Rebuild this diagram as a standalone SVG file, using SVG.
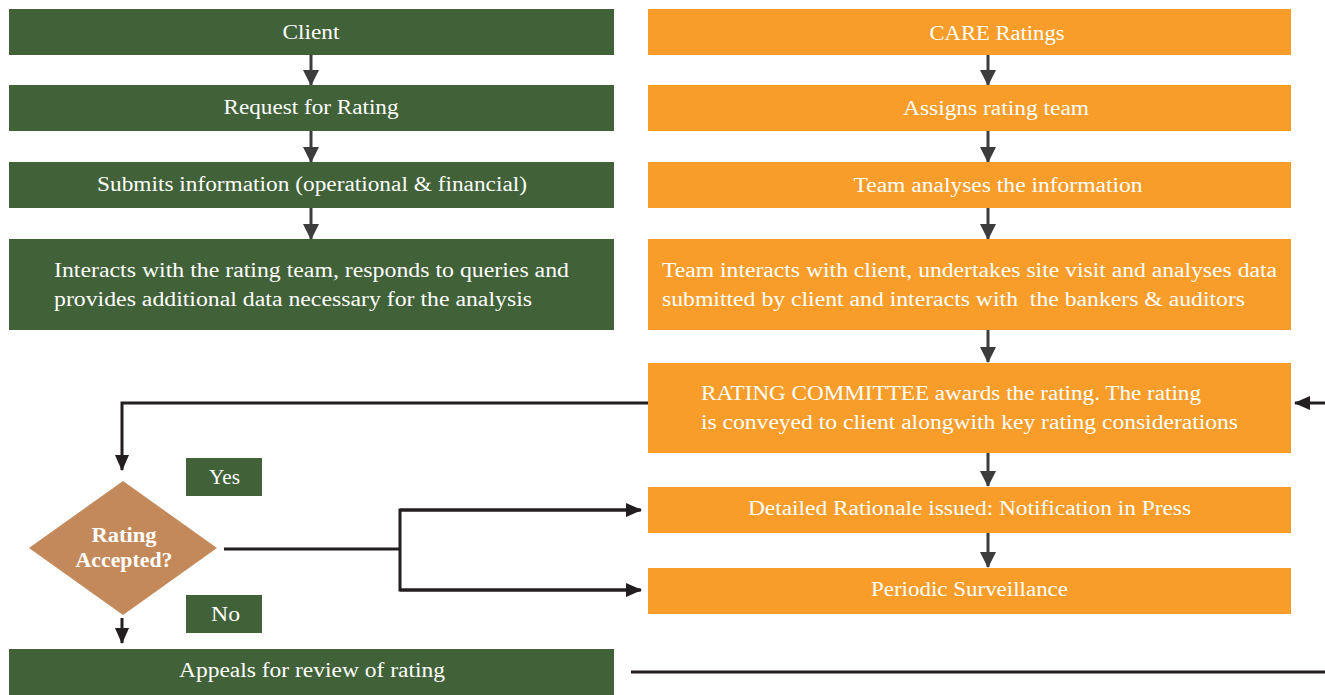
<svg xmlns="http://www.w3.org/2000/svg" width="1325" height="695" viewBox="0 0 1325 695">
<defs>
<style>
.g{fill:#416139}
.o{fill:#F89D2A}
.t{font-family:"Liberation Serif","Times New Roman",serif;font-size:20px;fill:#ffffff}
.c{text-anchor:middle}
.b{font-weight:bold}
.s{stroke:#3c3c3c;stroke-width:3;fill:none}
.k{stroke:#231f20;stroke-width:3;fill:none}
</style>
<marker id="ah" markerUnits="userSpaceOnUse" markerWidth="16" markerHeight="16" viewBox="0 0 16 16" refX="15" refY="8" orient="auto">
<path d="M0,0 L16,8 L0,16 Z" fill="#3c3c3c"/>
</marker>
<marker id="ak" markerUnits="userSpaceOnUse" markerWidth="16" markerHeight="16" viewBox="0 0 16 16" refX="15" refY="8" orient="auto">
<path d="M0,1 L16,8 L0,15 Z" fill="#231f20"/>
</marker>
</defs>
<rect width="1325" height="695" fill="#ffffff"/>

<g id="connectors">
<line class="s" x1="311" y1="55" x2="311" y2="85" marker-end="url(#ah)"/>
<line class="s" x1="311" y1="131" x2="311" y2="162" marker-end="url(#ah)"/>
<line class="s" x1="311" y1="208" x2="311" y2="239" marker-end="url(#ah)"/>
<line class="s" x1="988" y1="55" x2="988" y2="85" marker-end="url(#ah)"/>
<line class="s" x1="988" y1="131" x2="988" y2="162" marker-end="url(#ah)"/>
<line class="s" x1="988" y1="208" x2="988" y2="239" marker-end="url(#ah)"/>
<line class="s" x1="988" y1="330" x2="988" y2="362" marker-end="url(#ah)"/>
<line class="s" x1="988" y1="453" x2="988" y2="486" marker-end="url(#ah)"/>
<line class="s" x1="988" y1="533" x2="988" y2="567" marker-end="url(#ah)"/>
<polyline class="k" points="648,403 122,403 122,470" marker-end="url(#ak)"/>
<line class="k" x1="224" y1="549" x2="400" y2="549"/>
<polyline class="k" points="640,510 400,510 400,590 640,590" />
<line class="k" x1="400" y1="510" x2="641" y2="510" marker-end="url(#ak)"/>
<line class="k" x1="400" y1="590" x2="641" y2="590" marker-end="url(#ak)"/>
<line class="k" x1="122" y1="618" x2="122" y2="643" marker-end="url(#ak)"/>
<line class="k" x1="1325" y1="403" x2="1295" y2="403" marker-end="url(#ak)"/>
<line class="k" x1="631" y1="672" x2="1325" y2="672"/>
</g>

<g id="client"><rect class="g" x="9" y="9" width="605" height="46"/><text class="t c" x="311" y="39" textLength="57" lengthAdjust="spacingAndGlyphs">Client</text></g>
<g id="request"><rect class="g" x="9" y="85" width="605" height="46"/><text class="t c" x="311" y="114" textLength="175" lengthAdjust="spacingAndGlyphs">Request for Rating</text></g>
<g id="submits"><rect class="g" x="9" y="162" width="605" height="46"/><text class="t c" x="312" y="191" textLength="430" lengthAdjust="spacingAndGlyphs">Submits information (operational &amp; financial)</text></g>
<g id="interacts"><rect class="g" x="9" y="239" width="605" height="91"/>
<text class="t" x="54" y="277" textLength="515" lengthAdjust="spacingAndGlyphs">Interacts with the rating team, responds to queries and</text>
<text class="t" x="54" y="306" textLength="478" lengthAdjust="spacingAndGlyphs">provides additional data necessary for the analysis</text></g>
<g id="appeals"><rect class="g" x="9" y="649" width="605" height="46"/><text class="t c" x="312" y="677" textLength="266" lengthAdjust="spacingAndGlyphs">Appeals for review of rating</text></g>

<g id="care"><rect class="o" x="648" y="9" width="643" height="46"/><text class="t c" x="997" y="40" textLength="135" lengthAdjust="spacingAndGlyphs">CARE Ratings</text></g>
<g id="assigns"><rect class="o" x="648" y="85" width="643" height="46"/><text class="t c" x="996" y="115" textLength="186" lengthAdjust="spacingAndGlyphs">Assigns rating team</text></g>
<g id="analyses"><rect class="o" x="648" y="162" width="643" height="46"/><text class="t c" x="998" y="192" textLength="289" lengthAdjust="spacingAndGlyphs">Team analyses the information</text></g>
<g id="team-interacts"><rect class="o" x="648" y="239" width="643" height="91"/>
<text class="t" x="662" y="277" textLength="615" lengthAdjust="spacingAndGlyphs">Team interacts with client, undertakes site visit and analyses data</text>
<text class="t" x="662" y="306" textLength="583" lengthAdjust="spacingAndGlyphs" xml:space="preserve">submitted by client and interacts with  the bankers &amp; auditors</text></g>
<g id="committee"><rect class="o" x="648" y="363" width="643" height="90"/>
<text class="t" x="701" y="400" textLength="500" lengthAdjust="spacingAndGlyphs">RATING COMMITTEE awards the rating. The rating</text>
<text class="t" x="701" y="429" textLength="537" lengthAdjust="spacingAndGlyphs">is conveyed to client alongwith key rating considerations</text></g>
<g id="rationale"><rect class="o" x="648" y="487" width="643" height="46"/><text class="t c" x="969.5" y="515" textLength="443" lengthAdjust="spacingAndGlyphs">Detailed Rationale issued: Notification in Press</text></g>
<g id="surveillance"><rect class="o" x="648" y="568" width="643" height="46"/><text class="t c" x="969.5" y="596" textLength="197" lengthAdjust="spacingAndGlyphs">Periodic Surveillance</text></g>

<g id="decision"><polygon points="123,481 217,548 123,615 29,548" fill="#C4895A"/>
<text class="t c b" x="124" y="542" textLength="65" lengthAdjust="spacingAndGlyphs">Rating</text>
<text class="t c b" x="124" y="567" textLength="97" lengthAdjust="spacingAndGlyphs">Accepted?</text></g>
<g id="yes"><rect class="g" x="186" y="458" width="76" height="38"/><text class="t c" x="224.5" y="484" textLength="31" lengthAdjust="spacingAndGlyphs">Yes</text></g>
<g id="no"><rect class="g" x="186" y="595" width="76" height="38"/><text class="t c" x="225.5" y="621" textLength="29" lengthAdjust="spacingAndGlyphs">No</text></g>
</svg>
